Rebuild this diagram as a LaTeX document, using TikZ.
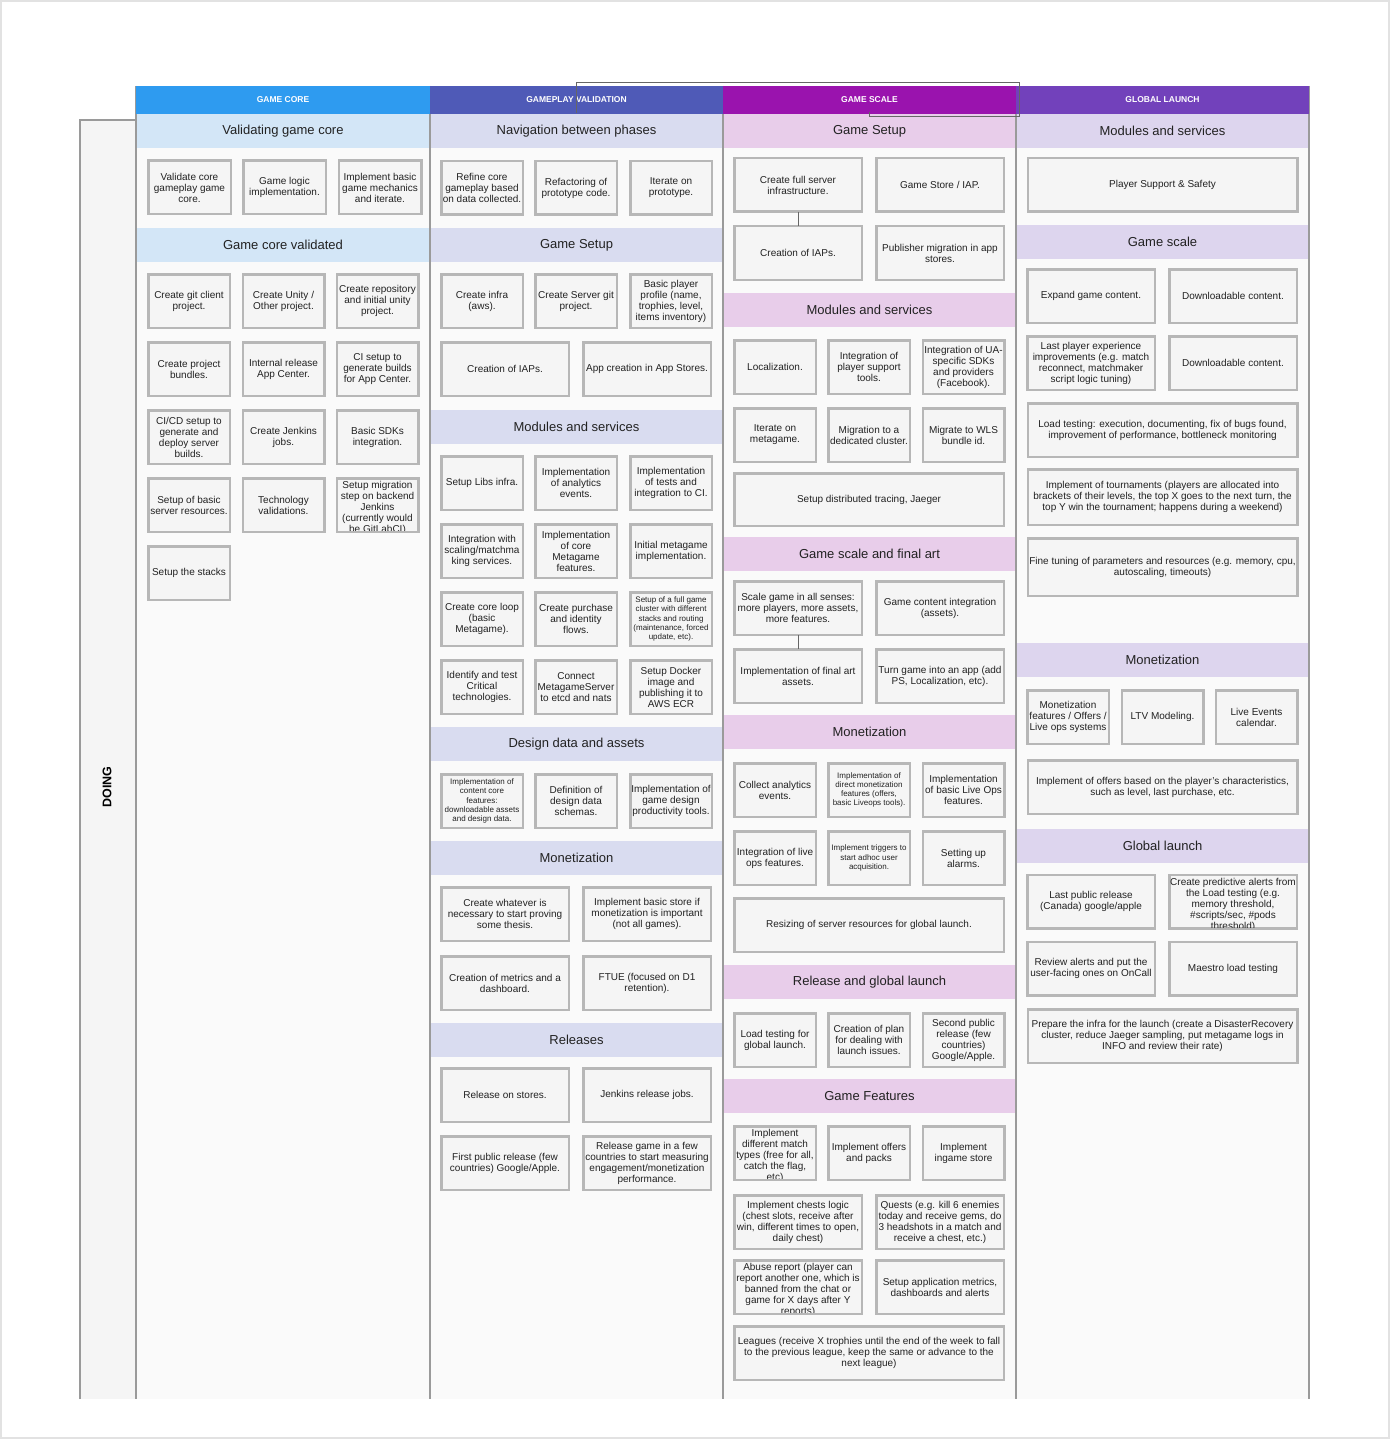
\documentclass[tikz,border=0pt]{standalone}
\usepackage{fontspec}
\setmainfont{Liberation Sans}
\definecolor{cardfill}{HTML}{F5F5F5}
\definecolor{cardline}{HTML}{B7B7B7}
\definecolor{colfill}{HTML}{FAFAFA}
\definecolor{colgray}{HTML}{9A9A9A}
\definecolor{lanefill}{HTML}{F5F5F5}
\definecolor{txt}{HTML}{222222}
\definecolor{conngray}{HTML}{666666}
\definecolor{framegray}{HTML}{E2E2E2}
\definecolor{hA}{HTML}{2E9BF0}
\definecolor{bA}{HTML}{D3E6F7}
\definecolor{hB}{HTML}{4F5AB7}
\definecolor{bB}{HTML}{D9DCF0}
\definecolor{hC}{HTML}{9A13AE}
\definecolor{bC}{HTML}{E8CDEA}
\definecolor{hD}{HTML}{7241BB}
\definecolor{bD}{HTML}{DDD5EE}
\newcommand{\mkcard}[7][]{\node[card,#1,minimum width=#5*1pt-2.5pt,minimum height=#6*1pt-2.5pt] (#2) at (#3,#4) {#7};}
\newcommand{\mkclip}[7][]{\node[card,minimum width=#5*1pt-2.5pt,minimum height=#6*1pt-2.5pt] (#2) at (#3,#4) {};\begin{scope}\clip (#3-#5/2+2.5,#4-#6/2+2.5) rectangle (#3+#5/2-2.5,#4+#6/2-2.5);\node[cardtext,#1] (#2t) at (#3,#4+3) {#7};\end{scope}}
\newcommand{\mkband}[5]{\node[band,fill=#2] (#1) at (#3,#4) {#5};}
\begin{document}
\begin{tikzpicture}[x=1pt,y=-1pt,
 card/.style={draw=cardline, fill=cardfill, line width=2.5pt, inner sep=0pt, outer sep=0pt, align=center, text=txt, font=\fontsize{10}{11}\selectfont},
 cardtext/.style={inner sep=0pt, outer sep=0pt, align=center, text=txt, font=\fontsize{10}{11}\selectfont},
 smalltxt/.style={font=\fontsize{8}{9.2}\selectfont},
 band/.style={inner sep=0pt, outer sep=0pt, minimum width=293pt, minimum height=34pt, text=txt, font=\fontsize{13}{15}\selectfont},
 hdr/.style={inner sep=0pt, outer sep=0pt, minimum width=293pt, minimum height=28pt, text=white, font=\bfseries\fontsize{8.5}{10}\selectfont},
 colline/.style={draw=colgray, line width=1.5pt},
 conn/.style={draw=conngray, line width=0.8pt},
 ]
\useasboundingbox (0,0) rectangle (1390,1439);
\fill[white] (0,0) rectangle (1390,1439);
\draw[draw=framegray, line width=2pt] (1,1) rectangle (1389,1438);
% DOING lane
\fill[lanefill] (80,120) rectangle (136,1399);
\draw[colline] (80,1399) -- (80,120) -- (136,120);
\node[font=\bfseries\fontsize{12.5}{14}\selectfont, rotate=90, text=black] (doing) at (107,787) {DOING};
% column bodies
\fill[colfill] (136,114) rectangle (430,1399);
\fill[colfill] (430,114) rectangle (723,1399);
\fill[colfill] (723,114) rectangle (1016,1399);
\fill[colfill] (1016,114) rectangle (1309,1399);
% bands
\mkband{bandA1}{bA}{283}{131}{Validating game core}
\mkband{bandA2}{bA}{283}{245}{Game core validated}
\mkband{bandB1}{bB}{576.5}{131}{Navigation between phases}
\mkband{bandB2}{bB}{576.5}{245}{Game Setup}
\mkband{bandB3}{bB}{576.5}{427}{Modules and services}
\mkband{bandB4}{bB}{576.5}{744}{Design data and assets}
\mkband{bandB5}{bB}{576.5}{858}{Monetization}
\mkband{bandB6}{bB}{576.5}{1039.5}{Releases}
\mkband{bandC1}{bC}{869.5}{131}{Game Setup}
\mkband{bandC2}{bC}{869.5}{310}{Modules and services}
\mkband{bandC3}{bC}{869.5}{554}{Game scale and final art}
\mkband{bandC4}{bC}{869.5}{732}{Monetization}
\mkband{bandC5}{bC}{869.5}{982}{Release and global launch}
\mkband{bandC6}{bC}{869.5}{1096}{Game Features}
\mkband{bandD1}{bD}{1162.5}{131}{Modules and services}
\mkband{bandD2}{bD}{1162.5}{242}{Game scale}
\mkband{bandD3}{bD}{1162.5}{660}{Monetization}
\mkband{bandD4}{bD}{1162.5}{846}{Global launch}
% column lines
\draw[colline] (136,86) -- (136,1399);
\draw[colline] (430,86) -- (430,1399);
\draw[colline] (723,86) -- (723,1399);
\draw[colline] (1016,86) -- (1016,1399);
\draw[colline] (1309,86) -- (1309,1399);
% headers
\node[hdr, fill=hA, minimum width=294pt] (hdrA) at (283,100) {GAME CORE};
\node[hdr, fill=hB] (hdrB) at (576.5,100) {GAMEPLAY VALIDATION};
\node[hdr, fill=hC] (hdrC) at (869.5,100) {GAME SCALE};
\node[hdr, fill=hD] (hdrD) at (1162.5,100) {GLOBAL LAUNCH};
% column 1
\mkcard{a11}{189.5}{187.5}{85}{56}{Validate core\\gameplay game\\core.}
\mkcard{a12}{284.5}{187.5}{85}{56}{Game logic\\implementation.}
\mkcard{a13}{380}{187.5}{85}{56}{Implement basic\\game mechanics\\and iterate.}
\mkcard{a21}{189}{301}{84}{56}{Create git client\\project.}
\mkcard{a22}{283.5}{301}{84}{56}{Create Unity /\\Other project.}
\mkcard{a23}{377.5}{301}{84}{56}{Create repository\\and initial unity\\project.}
\mkcard{a31}{189}{369}{84}{56}{Create project\\bundles.}
\mkcard{a32}{283.5}{369}{84}{56}{Internal release\\App Center.}
\mkcard{a33}{377.5}{369}{84}{56}{CI setup to\\generate builds\\for App Center.}
\mkcard{a41}{189}{437}{84}{56}{CI/CD setup to\\generate and\\deploy server\\builds.}
\mkcard{a42}{283.5}{437}{84}{56}{Create Jenkins\\jobs.}
\mkcard{a43}{377.5}{437}{84}{56}{Basic SDKs\\integration.}
\mkcard{a51}{189}{505}{84}{56}{Setup of basic\\server resources.}
\mkcard{a52}{283.5}{505}{84}{56}{Technology\\validations.}
\mkclip{a53}{377.5}{505}{84}{56}{Setup migration\\step on backend\\Jenkins\\(currently would\\be GitLabCI)}
\mkcard{a61}{189}{573}{84}{56}{Setup the stacks}
% column 2
\mkcard{b11}{482}{188}{84}{56}{Refine core\\gameplay based\\on data collected.}
\mkcard{b12}{576}{188}{84}{56}{Refactoring of\\prototype code.}
\mkcard{b13}{671}{188}{84}{56}{Iterate on\\prototype.}
\mkcard{b21}{482}{301}{84}{56}{Create infra\\(aws).}
\mkcard{b22}{576}{301}{84}{56}{Create Server git\\project.}
\mkcard{b23}{671}{301}{84}{56}{Basic player\\profile (name,\\trophies, level,\\items inventory)}
\mkcard{b31}{505}{369}{130}{56}{Creation of IAPs.}
\mkcard{b32}{647}{369}{130}{56}{App creation in App Stores.}
\mkcard{b41}{482}{483}{84}{56}{Setup Libs infra.}
\mkcard{b42}{576}{483}{84}{56}{Implementation\\of analytics\\events.}
\mkcard{b43}{671}{483}{84}{56}{Implementation\\of tests and\\integration to CI.}
\mkcard{b51}{482}{551}{84}{56}{Integration with\\scaling/matchma\\king services.}
\mkcard{b52}{576}{551}{84}{56}{Implementation\\of core\\Metagame\\features.}
\mkcard{b53}{671}{551}{84}{56}{Initial metagame\\implementation.}
\mkcard{b61}{482}{619}{84}{56}{Create core loop\\(basic\\Metagame).}
\mkcard{b62}{576}{619}{84}{56}{Create purchase\\and identity\\flows.}
\mkcard[smalltxt]{b63}{671}{619}{84}{56}{Setup of a full game\\cluster with different\\stacks and routing\\(maintenance, forced\\update, etc).}
\mkcard{b71}{482}{687}{84}{56}{Identify and test\\Critical\\technologies.}
\mkcard{b72}{576}{687}{84}{56}{Connect\\MetagameServer\\to etcd and nats}
\mkcard{b73}{671}{687}{84}{56}{Setup Docker\\image and\\publishing it to\\AWS ECR}
\mkcard[smalltxt]{b81}{482}{801}{84}{56}{Implementation of\\content core\\features:\\downloadable assets\\and design data.}
\mkcard{b82}{576}{801}{84}{56}{Definition of\\design data\\schemas.}
\mkcard{b83}{671}{801}{84}{56}{Implementation of\\game design\\productivity tools.}
\mkcard{b91}{505}{914}{130}{56}{Create whatever is\\necessary to start proving\\some thesis.}
\mkcard{b92}{647}{914}{130}{56}{Implement basic store if\\monetization is important\\(not all games).}
\mkcard{b101}{505}{983}{130}{56}{Creation of metrics and a\\dashboard.}
\mkcard{b102}{647}{983}{130}{56}{FTUE (focused on D1\\retention).}
\mkcard{b111}{505}{1095}{130}{56}{Release on stores.}
\mkcard{b112}{647}{1095}{130}{56}{Jenkins release jobs.}
\mkcard{b121}{505}{1163}{130}{56}{First public release (few\\countries) Google/Apple.}
\mkcard{b122}{647}{1163}{130}{56}{Release game in a few\\countries to start measuring\\engagement/monetization\\performance.}
% column 3
\mkcard{c11}{798}{185}{130}{56}{Create full server\\infrastructure.}
\mkcard{c12}{940}{185}{130}{56}{Game Store / IAP.}
\mkcard{c21}{798}{253}{130}{56}{Creation of IAPs.}
\mkcard{c22}{940}{253}{130}{56}{Publisher migration in app\\stores.}
\mkcard{c31}{775}{367}{84}{56}{Localization.}
\mkcard{c32}{869}{367}{84}{56}{Integration of\\player support\\tools.}
\mkcard{c33}{963.5}{367}{84}{56}{Integration of UA-\\specific SDKs\\and providers\\(Facebook).}
\mkcard{c41}{775}{435}{84}{56}{Iterate on\\metagame.}
\mkcard{c42}{869}{435}{84}{56}{Migration to a\\dedicated cluster.}
\mkcard{c43}{963.5}{435}{84}{56}{Migrate to WLS\\bundle id.}
\mkcard{c51}{869}{499.5}{272}{55}{Setup distributed tracing, Jaeger}
\mkcard{c61}{798}{608}{130}{56}{Scale game in all senses:\\more players, more assets,\\more features.}
\mkcard{c62}{940}{608}{130}{56}{Game content integration\\(assets).}
\mkcard{c71}{798}{676}{130}{56}{Implementation of final art\\assets.}
\mkcard{c72}{940}{676}{130}{56}{Turn game into an app (add\\PS, Localization, etc).}
\mkcard{c81}{775}{790}{84}{56}{Collect analytics\\events.}
\mkcard[smalltxt]{c82}{869}{790}{84}{56}{Implementation of\\direct monetization\\features (offers,\\basic Liveops tools).}
\mkcard{c83}{963.5}{790}{84}{56}{Implementation\\of basic Live Ops\\features.}
\mkcard{c91}{775}{858}{84}{56}{Integration of live\\ops features.}
\mkcard[smalltxt]{c92}{869}{858}{84}{56}{Implement triggers to\\start adhoc user\\acquisition.}
\mkcard{c93}{963.5}{858}{84}{56}{Setting up\\alarms.}
\mkcard{c101}{869}{925}{272}{56}{Resizing of server resources for global launch.}
\mkcard{c111}{775}{1040}{84}{56}{Load testing for\\global launch.}
\mkcard{c112}{869}{1040}{84}{56}{Creation of plan\\for dealing with\\launch issues.}
\mkcard{c113}{963.5}{1040}{84}{56}{Second public\\release (few\\countries)\\Google/Apple.}
\mkclip{c121}{775}{1153}{84}{56}{Implement\\different match\\types (free for all,\\catch the flag,\\etc)}
\mkcard{c122}{869}{1153}{84}{56}{Implement offers\\and packs}
\mkcard{c123}{963.5}{1153}{84}{56}{Implement\\ingame store}
\mkcard{c131}{798}{1222}{130}{56}{Implement chests logic\\(chest slots, receive after\\win, different times to open,\\daily chest)}
\mkcard{c132}{940}{1222}{130}{56}{Quests (e.g. kill 6 enemies\\today and receive gems, do\\3 headshots in a match and\\receive a chest, etc.)}
\mkclip{c141}{798}{1287}{130}{56}{Abuse report (player can\\report another one, which is\\banned from the chat or\\game for X days after Y\\reports)}
\mkcard{c142}{940}{1287}{130}{56}{Setup application metrics,\\dashboards and alerts}
\mkcard{c151}{869}{1353}{272}{56}{Leagues (receive X trophies until the end of the week to fall\\to the previous league, keep the same or advance to the\\next league)}
% column 4
\mkcard{d11}{1162.5}{185}{272}{56}{Player Support \& Safety}
\mkcard{d21}{1091}{296}{130}{56}{Expand game content.}
\mkcard{d22}{1233}{296}{130}{56}{Downloadable content.}
\mkcard{d31}{1091}{363}{130}{56}{Last player experience\\improvements (e.g. match\\reconnect, matchmaker\\script logic tuning)}
\mkcard{d32}{1233}{363}{130}{56}{Downloadable content.}
\mkcard{d41}{1162.5}{430}{272}{56}{Load testing: execution, documenting, fix of bugs found,\\improvement of performance, bottleneck monitoring}
\mkcard{d51}{1162.5}{497}{272}{58}{Implement of tournaments (players are allocated into\\brackets of their levels, the top X goes to the next turn, the\\top Y win the tournament; happens during a weekend)}
\mkcard{d61}{1162.5}{567}{272}{60}{Fine tuning of parameters and resources (e.g. memory, cpu,\\autoscaling, timeouts)}
\mkcard{d71}{1068}{717}{84}{56}{Monetization\\features / Offers /\\Live ops systems}
\mkcard{d72}{1162.5}{717}{84}{56}{LTV Modeling.}
\mkcard{d73}{1256.5}{717}{84}{56}{Live Events\\calendar.}
\mkcard{d81}{1162.5}{787}{272}{56}{Implement of offers based on the player's characteristics,\\such as level, last purchase, etc.}
\mkcard{d91}{1091}{901.5}{130}{56}{Last public release\\(Canada) google/apple}
\mkclip{d92}{1233}{901.5}{130}{56}{Create predictive alerts from\\the Load testing (e.g.\\memory threshold,\\\#scripts/sec, \#pods\\threshold)}
\mkcard{d101}{1091}{968.5}{130}{56}{Review alerts and put the\\user-facing ones on OnCall}
\mkcard{d102}{1233}{968.5}{130}{56}{Maestro load testing}
\mkcard{d111}{1162.5}{1036}{272}{56}{Prepare the infra for the launch (create a DisasterRecovery\\cluster, reduce Jaeger sampling, put metagame logs in\\INFO and review their rate)}
% connectors
\draw[conn] (c11.south) -- (c21.north);
\draw[conn] (c61.south) -- (c71.north);
% stray outline near the top
\draw[draw=conngray, line width=0.8pt] (576,113) -- (576,82.5) -- (1019,82.5) -- (1019,116.5) -- (869,116.5) -- (869,112);
\end{tikzpicture}
\end{document}
